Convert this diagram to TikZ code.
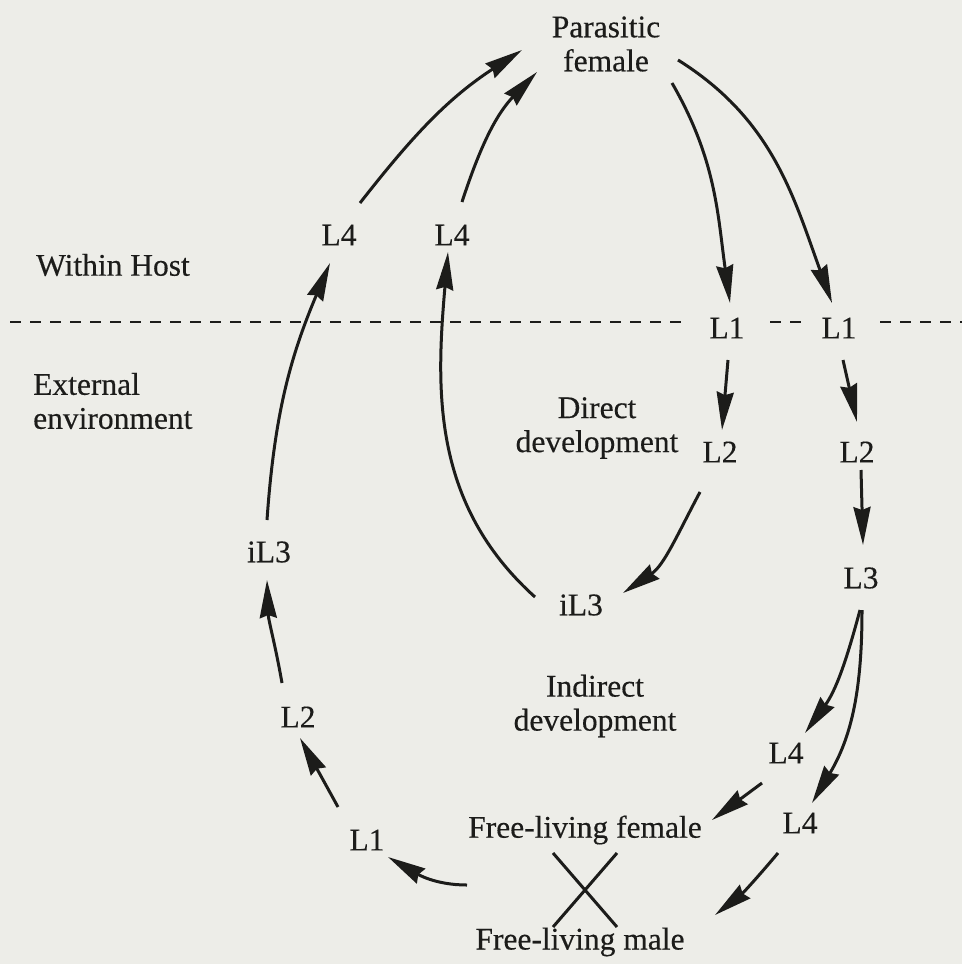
\documentclass[tikz,border=0pt]{standalone}
\usepackage{fontspec}
\setmainfont{Liberation Serif}
\newfontfamily\inkfont{Liberation Serif}[FakeBold=0.35]
\usetikzlibrary{arrows.meta,calc}
\definecolor{bg}{RGB}{237,237,232}
\definecolor{ink}{RGB}{28,28,26}
\begin{document}
\begin{tikzpicture}[x=1pt,y=1pt,
  lbl/.style={inner sep=0pt,text=ink,font=\inkfont\fontsize{31.5}{34}\selectfont},
  arr/.style={draw=ink,line width=3pt,-{Stealth[length=38pt,width=17pt,inset=3pt]}},
  dashline/.style={draw=ink,line width=2.2pt,dash pattern=on 11pt off 9pt},
  crossline/.style={draw=ink,line width=3pt}]
\fill[bg] (0,0) rectangle (962,-964);
\useasboundingbox (0,0) rectangle (962,-964);
% nodes
\node[lbl,align=center] (PF) at (606,-44) {Parasitic\\female};
\node[lbl] (WH) at (113,-265) {Within Host};
\node[lbl,align=left,anchor=west] (EE) at (33,-401) {External\\environment};
\node[lbl] (L4a) at (339,-235) {L4};
\node[lbl] (L4b) at (452,-235) {L4};
\node[lbl] (L1a) at (727,-328) {L1};
\node[lbl] (L1b) at (839,-328) {L1};
\node[lbl,align=center] (DD) at (597,-428) {Direct\\development};
\node[lbl] (L2a) at (720,-452) {L2};
\node[lbl] (L2b) at (857,-452) {L2};
\node[lbl] (L3) at (861,-578) {L3};
\node[lbl] (iL3m) at (581,-605) {iL3};
\node[lbl] (iL3l) at (269,-552) {iL3};
\node[lbl] (L2l) at (298,-717) {L2};
\node[lbl] (L1l) at (367,-840) {L1};
\node[lbl,align=center] (ID) at (595,-706) {Indirect\\development};
\node[lbl] (L4c) at (786,-753) {L4};
\node[lbl] (L4d) at (800,-823) {L4};
\node[lbl] (FLF) at (585,-830) {Free-living female};
\node[lbl] (FLM) at (580,-942) {Free-living male};
\coordinate (X) at (585,-890);
% dashed boundary
\draw[dashline] (10,-322) -- ($(L1a)+(-40,6)$);
\draw[dashline] ($(L1a)+(43,6)$) -- ($(L1b)+(-37,6)$);
\draw[dashline] ($(L1b)+(41,6)$) -- (962,-322);
% connectors
\draw[arr] ($(iL3l)+(-2,32)$) to[out=86,in=247] ($(L4a)+(-9,-28)$);
\draw[arr] ($(L4a)+(21,32)$) to[out=52,in=213] ($(PF)+(-84,-6)$);
\draw[arr] ($(iL3m)+(-46,8)$) to[out=138,in=265] ($(L4b)+(-4,-17)$);
\draw[arr] ($(L4b)+(10,33)$) to[out=72,in=226] ($(PF)+(-69,-28)$);
\draw[arr] ($(PF)+(66,-39)$) to[out=-60,in=98] ($(L1a)+(3,25)$);
\draw[arr] ($(PF)+(72,-16)$) to[out=-32,in=110] ($(L1b)+(-7,25)$);
\draw[arr] ($(L1a)+(1,-32)$) -- ($(L2a)+(2,22)$);
\draw[arr] ($(L1b)+(4,-32)$) -- ($(L2b)+(0,30)$);
\draw[arr] ($(L2a)+(-20,-40)$) to[out=242,in=34] ($(iL3m)+(42,12)$);
\draw[arr] ($(L2b)+(4,-18)$) -- ($(L3)+(2,33)$);
\draw[arr] ($(L3)+(-1,-32)$) to[out=255,in=54] ($(L4c)+(19,20)$);
\draw[arr] ($(L3)+(1,-32)$) to[out=270,in=59] ($(L4d)+(12,20)$);
\draw[arr] ($(L4c)+(-24,-30)$) -- ($(FLF)+(127,10)$);
\draw[arr] ($(L4d)+(-22,-30)$) to[out=230,in=38] ($(FLM)+(135,27)$);
\draw[arr] ($(FLF)+(-118,-55)$) to[out=180,in=330] ($(L1l)+(21,-17)$);
\draw[arr] ($(L1l)+(-29,33)$) -- ($(L2l)+(2,-21)$);
\draw[arr] ($(L2l)+(-16,34)$) to[out=100,in=272] ($(iL3l)+(-2,-28)$);
% cross
\draw[crossline] ($(X)+(-32,37)$) -- ($(X)+(32,-37)$);
\draw[crossline] ($(X)+(32,37)$) -- ($(X)+(-32,-37)$);
\end{tikzpicture}
\end{document}
